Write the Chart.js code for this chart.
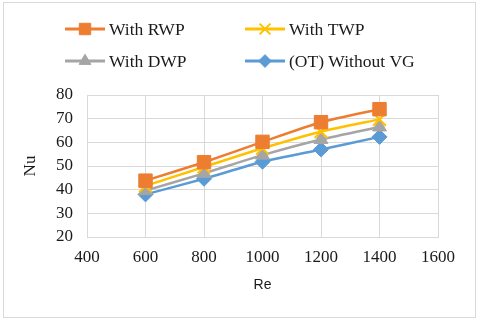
<!DOCTYPE html>
<html>
<head>
<meta charset="utf-8">
<script src="https://cdn.jsdelivr.net/npm/chart.js@4.4.1/dist/chart.umd.min.js"></script>
<style>
  html, body { margin: 0; padding: 0; background: #fff; }
  #wrap { width: 480px; height: 322px; }
</style>
</head>
<body>
<div id="wrap"><canvas id="nuChart" width="480" height="322"></canvas></div>
<script>
// values
const reynolds = [600, 800, 1000, 1200, 1400];
const nuRWP = [43.8, 51.6, 60.2, 68.5, 74.0];
const nuTWP = [41.6, 49.6, 57.5, 64.5, 69.7];
const nuDWP = [39.6, 46.9, 54.6, 61.2, 66.5];
const nuOT = [38.0, 44.6, 51.8, 57.0, 62.3];
const seriesNames = ['With RWP', 'With TWP', 'With DWP', '(OT) Without VG'];

const serif = "'Liberation Serif', 'Times New Roman', serif";
const sans = "'Liberation Sans', Arial, sans-serif";

function toPoints(ys) {
    return reynolds.map((x, i) => ({ x: x, y: ys[i] }));
}

function makeSet(label, ys, color, style, radius, bw) {
    return {
        label: label,
        data: toPoints(ys),
        borderColor: color,
        backgroundColor: color,
        borderWidth: 2.5,
        pointStyle: style,
        pointRadius: radius,
        pointHoverRadius: radius,
        pointBackgroundColor: color,
        pointBorderColor: color,
        pointBorderWidth: bw,
        tension: 0.2,
        fill: false,
    };
}

// excel-like legend: two columns, line with a marker in the middle
const gridLegend = {
    id: 'gridLegend',
    afterDraw(chart) {
        const ctx = chart.ctx;
        const cols = [65, 245];
        const rows = [29, 61];
        ctx.save();
        chart.data.datasets.forEach((ds, i) => {
            const x = cols[i % 2];
            const y = rows[Math.floor(i / 2)];
            ctx.strokeStyle = ds.borderColor;
            ctx.lineWidth = 3;
            ctx.beginPath();
            ctx.moveTo(x, y);
            ctx.lineTo(x + 40, y);
            ctx.stroke();
            ctx.fillStyle = ds.pointBackgroundColor;
            ctx.strokeStyle = ds.pointBorderColor;
            ctx.lineWidth = ds.pointBorderWidth;
            Chart.helpers.drawPoint(ctx, {
                pointStyle: ds.pointStyle,
                radius: ds.pointRadius * 0.85,
                rotation: 0,
                borderWidth: ds.pointBorderWidth,
            }, x + 20, y);
            ctx.fillStyle = '#1a1a1a';
            ctx.font = '17.5px ' + serif;
            ctx.textBaseline = 'middle';
            ctx.textAlign = 'left';
            ctx.fillText(ds.label, x + 44, y + 1);
        });
        ctx.restore();
    },
};

// thin frame round the whole picture
const frame = {
    id: 'frame',
    beforeDraw(chart) {
        const ctx = chart.ctx;
        ctx.save();
        ctx.fillStyle = '#fff';
        ctx.fillRect(0, 0, chart.width, chart.height);
        ctx.strokeStyle = '#d9d9d9';
        ctx.lineWidth = 1;
        ctx.strokeRect(3.5, 2.5, 472, 315);
        ctx.restore();
    },
};

const ctx = document.getElementById('nuChart').getContext('2d');
const chart = new Chart(ctx, {
    type: 'line',
    data: {
        datasets: [
            makeSet(seriesNames[0], nuRWP, '#ED7D31', 'rect', 9.5, 1),
            makeSet(seriesNames[1], nuTWP, '#FFC000', 'crossRot', 9, 2),
            makeSet(seriesNames[2], nuDWP, '#A5A5A5', 'triangle', 8, 1),
            makeSet(seriesNames[3], nuOT, '#5B9BD5', 'rectRot', 7.5, 1),
        ],
    },
    options: {
        responsive: false,
        animation: false,
        layout: { padding: { top: 95, right: 42, bottom: 28, left: 20 } },
        plugins: {
            legend: { display: false },
            tooltip: { enabled: false },
        },
        scales: {
            x: {
                type: 'linear',
                min: 400,
                max: 1600,
                ticks: {
                    stepSize: 200,
                    padding: 10,
                    color: '#1a1a1a',
                    font: { family: serif, size: 17 },
                    callback: (v) => String(v),
                },
                grid: { color: '#d9d9d9', drawTicks: false },
                border: { color: '#d9d9d9' },
                title: {
                    display: true,
                    text: 'Re',
                    color: '#1a1a1a',
                    font: { family: sans, size: 14 },
                    padding: { top: 6, bottom: 0 },
                },
                afterFit(axis) { axis.height = 57; },
            },
            y: {
                min: 20,
                max: 80,
                ticks: {
                    stepSize: 10,
                    padding: 14,
                    color: '#1a1a1a',
                    font: { family: serif, size: 17 },
                },
                grid: { color: '#d9d9d9', drawTicks: false },
                border: { color: '#d9d9d9' },
                title: {
                    display: true,
                    text: 'Nu',
                    color: '#1a1a1a',
                    font: { family: serif, size: 17 },
                    padding: { top: 0, bottom: 4 },
                },
                afterFit(axis) { axis.width = 67; },
            },
        },
    },
    plugins: [frame, gridLegend],
});
</script>
</body>
</html>
